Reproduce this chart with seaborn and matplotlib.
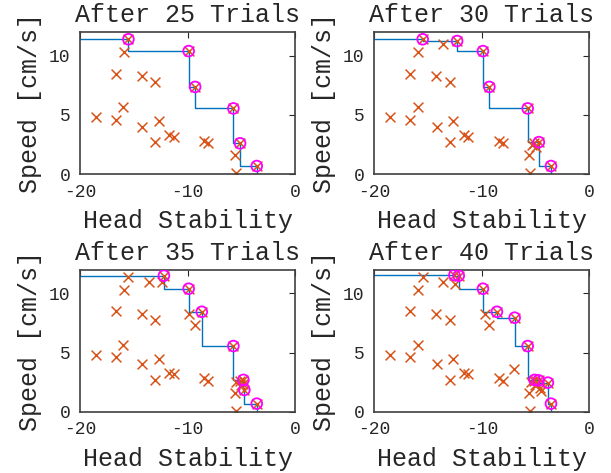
import numpy as np
import pandas as pd
import matplotlib
matplotlib.use('Agg')
import matplotlib.pyplot as plt
import seaborn as sns

# points seen in every panel
base_x = [-15.5, -15.9, -9.9, -9.3, -5.74, -5.12, -3.57, -16.7, -14.26, -13.0, -18.54,
          -16.7, -15.97, -14.2, -12.7, -13.0, -11.7, -11.3, -8.43, -8.06, -5.58, -5.49]
base_y = [11.4, 10.3, 10.4, 7.37, 5.55, 2.6, 0.68, 8.5, 8.27, 7.76, 4.82,
          4.59, 5.67, 4.02, 4.45, 2.69, 3.31, 3.17, 2.83, 2.6, 1.61, 0.06]

# extra points per panel
extra25_x = []
extra25_y = []
extra30_x = [-13.6, -12.3, -5.3, -4.95, -4.7]
extra30_y = [11.0, 11.25, 2.5, 2.3, 2.7]
extra35_x = [-13.6, -12.2, -12.4, -9.85, -8.68, -5.5, -4.81, -4.85, -5.05, -4.72]
extra35_y = [11.0, 11.5, 11.0, 8.3, 8.45, 2.54, 2.69, 2.32, 2.3, 1.84]
extra40_x = [-13.6, -12.55, -12.15, -12.5, -9.75, -8.6, -6.95, -7.0, -5.45, -5.1,
             -4.72, -5.1, -4.6, -4.5, -3.86, -4.85]
extra40_y = [11.0, 11.55, 11.5, 10.8, 8.28, 8.45, 7.95, 3.64, 2.55, 2.69,
             2.65, 2.25, 1.98, 1.75, 2.46, 2.32]

trials = [25, 30, 35, 40]
extras = [(extra25_x, extra25_y), (extra30_x, extra30_y),
          (extra35_x, extra35_y), (extra40_x, extra40_y)]

sns.set_style('white')
plt.rcParams['font.family'] = ['Liberation Mono', 'DejaVu Sans Mono']
plt.rcParams['axes.unicode_minus'] = False


def pareto(df):
    # non-dominated points (larger x and larger y are better)
    d = df.sort_values('x', ascending=False)
    best = -np.inf
    keep = []
    for _, r in d.iterrows():
        if r['y'] > best:
            keep.append(r)
            best = r['y']
    return pd.DataFrame(keep).sort_values('x')


fig = plt.figure(figsize=(6.11, 4.73), dpi=100)
lefts = [0.131, 0.6126, 0.131, 0.6126]
bottoms = [0.632, 0.632, 0.1296, 0.1296]

for i, t in enumerate(trials):
    ax = fig.add_axes([lefts[i], bottoms[i], 0.352, 0.30])
    df = pd.DataFrame({'x': base_x + extras[i][0], 'y': base_y + extras[i][1]})
    front = pareto(df)

    ax.step(np.r_[-20, front['x'].values], np.r_[front['y'].values, 0],
            where='post', color='#0072BD', lw=1.0, zorder=1)
    sns.scatterplot(data=df, x='x', y='y', marker='x', color='#D95319',
                    s=50, linewidth=1.1, ax=ax, zorder=2)
    sns.scatterplot(data=front, x='x', y='y', marker='o', facecolor='none',
                    edgecolor='#FF00FF', s=60, linewidth=1.3, ax=ax, zorder=3)

    ax.set_xlim(-20, 0)
    ax.set_ylim(0, 12)
    ax.set_xticks([-20, -10, 0])
    ax.set_yticks([0, 5, 10])
    ax.tick_params(direction='in', top=True, right=True, length=4, width=0.8,
                   labelsize=13, colors='#262626', pad=7)
    for sp in ax.spines.values():
        sp.set_color('#404040')
        sp.set_linewidth(1.2)
    ax.set_title(f'After {t} Trials', fontsize=18, pad=7)
    ax.set_xlabel('Head Stability', fontsize=18, color='#262626', labelpad=6)
    ax.set_ylabel('Speed [cm/s]', fontsize=18, color='#262626', labelpad=5)

plt.savefig('out.png', dpi=100)
